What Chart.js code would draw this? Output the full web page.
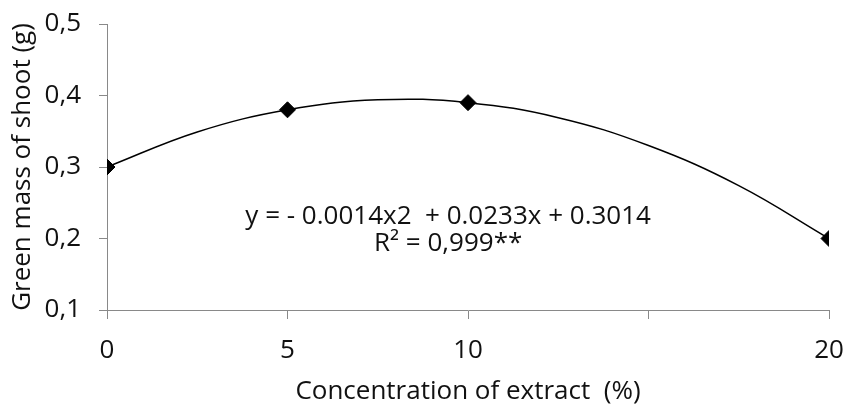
<!DOCTYPE html>
<html>
<head>
<meta charset="utf-8">
<script src="https://cdn.jsdelivr.net/npm/chart.js@4"></script>
<style>
  html, body { margin: 0; padding: 0; background: #fff; }
  #wrap { width: 845px; height: 407px; position: relative; }
</style>
</head>
<body>
<div id="wrap"><canvas id="chart"></canvas></div>
<script>
// observed means
const concentration = [0, 5, 10, 20];
const greenMass = [0.30, 0.38, 0.39, 0.20];

// trendline
const curveX = [0, 2.5, 5, 7.5, 10, 12.5, 15, 17.5, 20];
const curveY = [0.300, 0.349, 0.380, 0.394, 0.390, 0.369, 0.330, 0.274, 0.200];

// axes
const xTickValues = [0, 5, 10, 15, 20];
const xTickLabels = ['0', '5', '10', '', '20'];
const yTickValues = [0.1, 0.2, 0.3, 0.4, 0.5];
const yTickLabels = ['0,1', '0,2', '0,3', '0,4', '0,5'];

const equationLines = ['y = - 0.0014x2  + 0.0233x + 0.3014', 'R\u00B2 = 0,999**'];

const FONT = "'Open Sans', 'Noto Sans', sans-serif";
const AXIS_GREY = '#898989';
const TEXT = '#111';

// draws the regression equation inside the plot
const equationPlugin = {
    id: 'equation',
    afterDatasetsDraw(chart, args, opts) {
        const { ctx, scales } = chart;
        const cx = scales.x.getPixelForValue(opts.x);
        const cy = scales.y.getPixelForValue(opts.y);
        ctx.save();
        ctx.font = opts.size + 'px ' + FONT;
        ctx.fillStyle = TEXT;
        ctx.textAlign = 'center';
        ctx.textBaseline = 'middle';
        opts.lines.forEach((line, i) => {
            ctx.fillText(line, cx, cy + i * opts.lineGap);
        });
        ctx.restore();
    }
};

const pts = concentration.map((x, i) => ({ x: x, y: greenMass[i] }));
const curve = curveX.map((x, i) => ({ x: x, y: curveY[i] }));

new Chart(document.getElementById('chart'), {
    type: 'scatter',
    data: {
        datasets: [
            {
                label: 'Green mass',
                data: pts,
                showLine: false,
                pointStyle: 'rectRot',
                pointRadius: 8,
                pointBackgroundColor: '#000',
                pointBorderColor: '#000',
                pointBorderWidth: 1,
                order: 0
            },
            {
                label: 'Trend',
                data: curve,
                showLine: true,
                borderColor: '#000',
                borderWidth: 1.5,
                tension: 0.4,
                pointRadius: 0,
                order: 1
            }
        ]
    },
    options: {
        responsive: true,
        maintainAspectRatio: false,
        animation: false,
        devicePixelRatio: 1,
        layout: { padding: { left: 0, right: 16, top: 24, bottom: 0 } },
        plugins: {
            legend: { display: false },
            tooltip: { enabled: false },
            equation: { x: 9.45, y: 0.2305, lines: equationLines, size: 26, lineGap: 27 }
        },
        scales: {
            x: {
                type: 'linear',
                min: 0,
                max: 20,
                afterBuildTicks: s => { s.ticks = xTickValues.map(v => ({ value: v })); },
                afterFit: s => { s.height = 97; s.paddingLeft = 0; s.paddingRight = 0; },
                ticks: {
                    autoSkip: false,
                    maxRotation: 0,
                    padding: 16,
                    color: TEXT,
                    font: { family: FONT, size: 26 },
                    callback: (v, i) => xTickLabels[i]
                },
                grid: { drawOnChartArea: false, drawTicks: true, tickLength: 9, color: AXIS_GREY },
                border: { display: true, color: AXIS_GREY, width: 1 },
                title: {
                    display: true,
                    text: 'Concentration of extract  (%)',
                    color: TEXT,
                    font: { family: FONT, size: 26 },
                    padding: { top: 0, bottom: 0 }
                }
            },
            y: {
                type: 'linear',
                min: 0.1,
                max: 0.5,
                afterBuildTicks: s => { s.ticks = yTickValues.map(v => ({ value: v })); },
                afterFit: s => { s.width = 107; s.paddingTop = 0; s.paddingBottom = 0; },
                ticks: {
                    padding: 18,
                    color: TEXT,
                    font: { family: FONT, size: 26 },
                    callback: (v, i) => yTickLabels[i]
                },
                grid: { drawOnChartArea: false, drawTicks: true, tickLength: 8, color: AXIS_GREY },
                border: { display: true, color: AXIS_GREY, width: 1 },
                title: {
                    display: true,
                    text: 'Green mass of shoot (g)',
                    color: TEXT,
                    font: { family: FONT, size: 26 },
                    padding: { top: 7, bottom: 0 }
                }
            }
        }
    },
    plugins: [equationPlugin]
});
</script>
</body>
</html>
